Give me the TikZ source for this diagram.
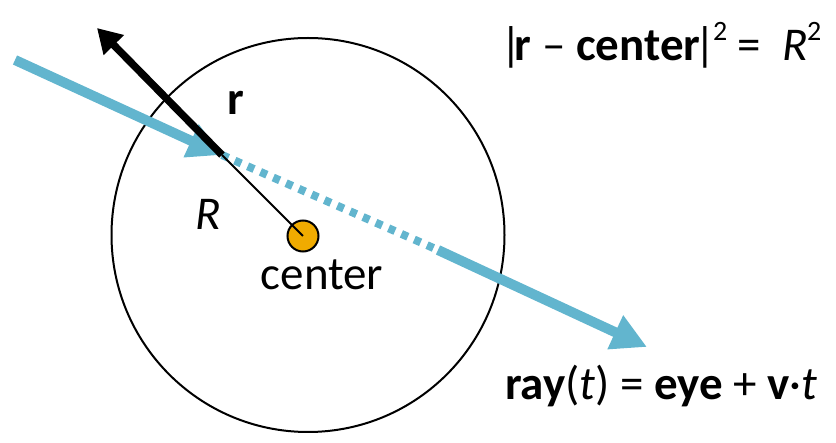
\documentclass[tikz,border=0pt]{standalone}
\usepackage{fontspec}
\setmainfont{Carlito}
\usetikzlibrary{arrows.meta,shapes.geometric}
\definecolor{raycol}{HTML}{62B5CE}
\definecolor{dotcol}{HTML}{F0AB00}
\newcommand{\sqr}{\raisebox{0.42em}{\fontsize{28}{28}\selectfont 2}}

\begin{document}
\begin{tikzpicture}[
  x=1pt,y=-1pt,
  rayline/.style={line width=10pt,draw=raycol},
  raydots/.style={line width=8pt,draw=raycol,dash pattern=on 7pt off 7pt},
  normal/.style={line width=7.5pt,-{Triangle[length=24pt,width=27pt]}},
  lbl/.style={font=\fontsize{47}{50}\selectfont,inner sep=0pt}
]
\useasboundingbox (0,0) rectangle (836,443);
\node[draw,line width=2pt,ellipse,minimum width=393pt,minimum height=394pt,inner sep=0pt] (sphere) at (308,235) {};
\coordinate (eye) at (15,60);
\coordinate (hit) at (222,155);
\coordinate (exit) at (438,250);
\coordinate (far) at (647,347);
\coordinate (rtip) at (97,28);
\node[circle,draw,line width=2pt,fill=dotcol,minimum size=31pt,inner sep=0pt] (ctr) at (303,236) {};
% ray through the sphere
\draw[raydots] (hit) -- (exit);
\draw[rayline,-{Triangle[length=35pt,width=35pt]}] (exit) -- (far);
\draw[rayline,-{Triangle[length=34pt,width=34pt]}] (eye) -- (hit);
% radius and surface normal
\draw[line width=2pt] (hit) -- (ctr.center);
\draw[normal] (hit) -- (rtip);
\node[lbl] (rlabel) at (236,103) {\textbf{r}};
\node[lbl] (Rlabel) at (208,214) {\textit{R}};
\node[lbl] (ctrlabel) at (322,275) {center};
\node[lbl,anchor=west] (sphereq) at (500,45) {|\kern-7pt\textbf{r} – \textbf{center}\kern-6pt|\kern-3pt\sqr{} = \ \textit{R}\kern-1pt\sqr};
\node[lbl,anchor=west] (rayeq) at (505,386) {\textbf{ray}(\textit{t}) = \textbf{eye} + \textbf{v}·\textit{t}};
\end{tikzpicture}
\end{document}
